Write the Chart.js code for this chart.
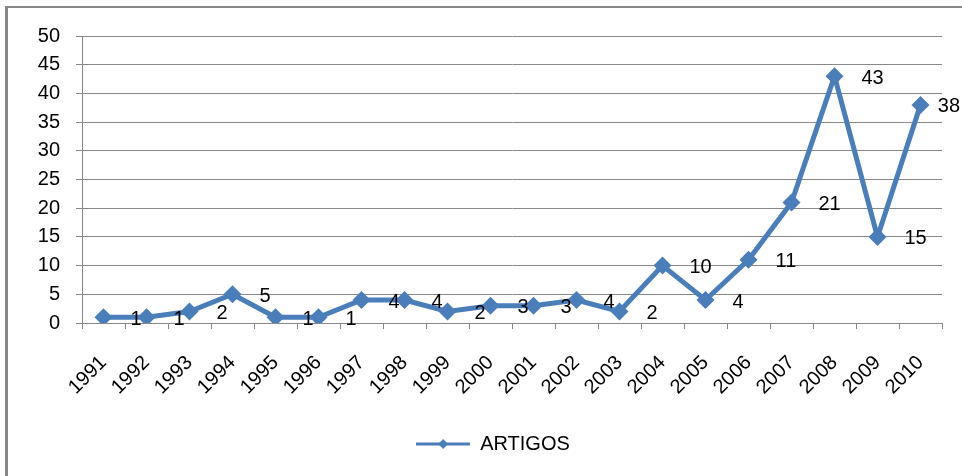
<!DOCTYPE html>
<html lang="en">
<head>
    <meta charset="UTF-8">
    <title>ARTIGOS</title>
    <script src="https://cdn.jsdelivr.net/npm/chart.js@4.4.8/dist/chart.umd.min.js"></script>
    <style>
        html, body { margin: 0; padding: 0; background: #fff; overflow: hidden; }
        #wrap { position: relative; width: 962px; height: 476px; }
        #frame {
            position: absolute; left: 5px; top: 6px; width: 1000px; height: 500px;
            border-left: 3px solid #888; border-top: 2px solid #888; pointer-events: none;
        }
    </style>
</head>
<body>
<div id="wrap">
    <canvas id="chart" width="962" height="476"></canvas>
    <div id="frame"></div>
</div>

<script>
    const years = ['1991', '1992', '1993', '1994', '1995', '1996', '1997', '1998', '1999', '2000',
        '2001', '2002', '2003', '2004', '2005', '2006', '2007', '2008', '2009', '2010'];
    const artigos = [1, 1, 2, 5, 1, 1, 4, 4, 2, 3, 3, 4, 2, 10, 4, 11, 21, 43, 15, 38];
    const yTicks = [0, 5, 10, 15, 20, 25, 30, 35, 40, 45, 50];

    const blue = '#4A7EBB';
    const fontFam = '"Liberation Sans", Arial, sans-serif';

    // legend marker: line with a diamond in the middle
    const marker = document.createElement('canvas');
    marker.width = 54;
    marker.height = 14;
    const mctx = marker.getContext('2d');
    mctx.strokeStyle = blue;
    mctx.lineWidth = 3;
    mctx.beginPath();
    mctx.moveTo(0, 7);
    mctx.lineTo(54, 7);
    mctx.stroke();
    mctx.fillStyle = blue;
    mctx.beginPath();
    mctx.moveTo(27, 2);
    mctx.lineTo(32, 7);
    mctx.lineTo(27, 12);
    mctx.lineTo(22, 7);
    mctx.closePath();
    mctx.fill();

    // values written to the right of each point (kept inside the canvas)
    const valueLabels = {
        id: 'valueLabels',
        afterDatasetsDraw(chart) {
            const ctx = chart.ctx;
            const meta = chart.getDatasetMeta(0);
            ctx.save();
            ctx.fillStyle = '#000';
            ctx.font = '20px ' + fontFam;
            ctx.textAlign = 'left';
            ctx.textBaseline = 'middle';
            meta.data.forEach((pt, i) => {
                const txt = String(artigos[i]);
                const w = ctx.measureText(txt).width;
                const x = Math.min(pt.x + 27, chart.width - w - 2);
                ctx.fillText(txt, x, pt.y + 2);
            });
            ctx.restore();
        }
    };

    // legend sits a bit right of the canvas centre in the original
    const legendShift = {
        id: 'legendShift',
        afterLayout(chart) {
            chart.legend.left += 22;
            chart.legend.right += 22;
        }
    };

    const chart = new Chart(document.getElementById('chart').getContext('2d'), {
        type: 'line',
        data: {
            labels: years,
            datasets: [{
                label: 'ARTIGOS',
                data: artigos,
                borderColor: blue,
                backgroundColor: blue,
                borderWidth: 5,
                pointStyle: 'rectRot',
                pointRadius: 9,
                pointHoverRadius: 9,
                pointBorderWidth: 0,
                tension: 0
            }]
        },
        options: {
            responsive: false,
            animation: false,
            layout: { padding: { left: 0, right: 20, top: 36, bottom: 12 } },
            plugins: {
                tooltip: { enabled: false },
                legend: {
                    position: 'bottom',
                    labels: {
                        usePointStyle: true,
                        pointStyleWidth: 54,
                        color: '#000',
                        font: { family: fontFam, size: 20 },
                        padding: 10,
                        generateLabels: (c) => [{
                            text: 'ARTIGOS',
                            pointStyle: marker,
                            fillStyle: blue,
                            strokeStyle: blue,
                            lineWidth: 0,
                            datasetIndex: 0
                        }]
                    }
                }
            },
            scales: {
                x: {
                    offset: true,
                    grid: {
                        offset: true,
                        drawOnChartArea: false,
                        drawTicks: true,
                        tickLength: 6,
                        color: '#888'
                    },
                    border: { color: '#888', width: 1 },
                    ticks: {
                        autoSkip: false,
                        minRotation: 45,
                        maxRotation: 45,
                        padding: 22,
                        color: '#000',
                        font: { family: fontFam, size: 20 }
                    },
                    afterFit: (scale) => { scale.height = 101; }
                },
                y: {
                    min: 0,
                    max: 50,
                    afterBuildTicks: (scale) => { scale.ticks = yTicks.map(v => ({ value: v })); },
                    grid: { color: '#888', tickLength: 6, drawTicks: true },
                    border: { color: '#888', width: 1 },
                    ticks: {
                        padding: 16,
                        color: '#000',
                        font: { family: fontFam, size: 20 }
                    },
                    afterFit: (scale) => { scale.width = 82; }
                }
            }
        },
        plugins: [valueLabels, legendShift]
    });
</script>
</body>
</html>
